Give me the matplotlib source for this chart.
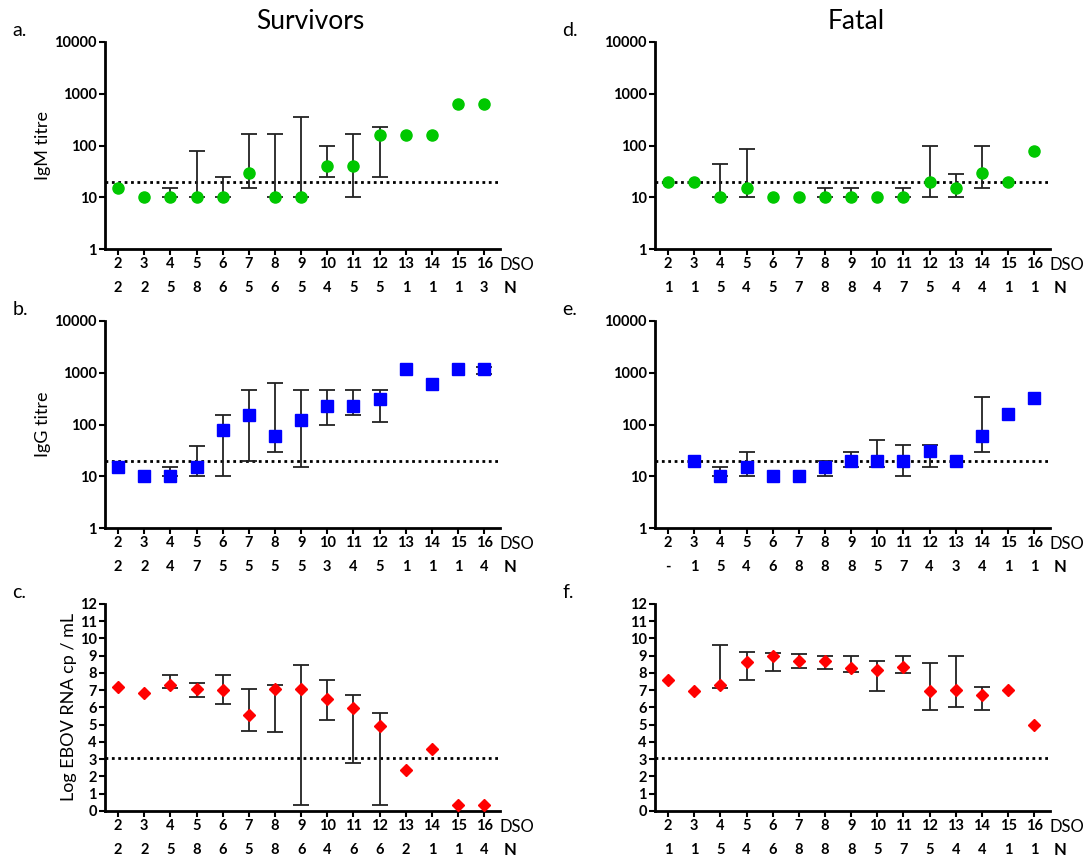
import matplotlib
matplotlib.use("Agg")
import matplotlib.pyplot as plt
import numpy as np

nan = np.nan

plt.rcParams['font.family'] = ['Lato', 'DejaVu Sans']

# %% data

dso = list(range(2, 17))

# IgM titre
igm_surv = [15, 10, 10, 10, 10, 30, 10, 10, 40, 40, 160, 160, 160, 640, 640]
igm_surv_lo = [nan, nan, 10, 10, 10, 15, 10, 10, 25, 10, 25, nan, nan, nan, nan]
igm_surv_hi = [nan, nan, 15, 80, 25, 170, 165, 350, 100, 170, 230, nan, nan, nan, nan]
igm_surv_n = ['2', '2', '5', '8', '6', '5', '6', '5', '4', '5', '5', '1', '1', '1', '3']

igm_fatal = [20, 20, 10, 15, 10, 10, 10, 10, 10, 10, 20, 15, 30, 20, 80]
igm_fatal_lo = [nan, nan, 10, 10, nan, nan, 10, 10, nan, 10, 10, 10, 15, nan, nan]
igm_fatal_hi = [nan, nan, 44, 85, nan, nan, 15, 15, nan, 15, 100, 28, 100, nan, nan]
igm_fatal_n = ['1', '1', '5', '4', '5', '7', '8', '8', '4', '7', '5', '4', '4', '1', '1']

# IgG titre
igg_surv = [15, 10, 10, 15, 80, 155, 60, 120, 230, 230, 310, 1200, 620, 1200, 1200]
igg_surv_lo = [nan, nan, 10, 10, 10, 20, 30, 15, 97, 155, 110, nan, nan, nan, 940]
igg_surv_hi = [nan, nan, 15, 39, 155, 455, 640, 455, 455, 455, 455, nan, nan, nan, 1280]
igg_surv_n = ['2', '2', '4', '7', '5', '5', '5', '5', '3', '4', '5', '1', '1', '1', '4']

igg_fatal = [nan, 20, 10, 15, 10, 10, 15, 20, 20, 20, 31, 20, 60, 160, 320]
igg_fatal_lo = [nan, nan, 10, 10, nan, nan, 10, 15, 15, 10, 15, nan, 30, nan, nan]
igg_fatal_hi = [nan, nan, 15, 30, nan, nan, 20, 30, 50, 41, 41, nan, 340, nan, nan]
igg_fatal_n = ['-', '1', '5', '4', '6', '8', '8', '8', '5', '7', '4', '3', '4', '1', '1']

# log EBOV RNA
rna_surv = [7.17, 6.86, 7.29, 7.05, 7.02, 5.58, 7.07, 7.05, 6.49, 5.95, 4.94, 2.36, 3.57, 0.33, 0.33]
rna_surv_lo = [nan, nan, 7.15, 6.63, 6.18, 4.65, 4.57, 0.33, 5.27, 2.79, 0.33, nan, nan, nan, nan]
rna_surv_hi = [nan, nan, 7.85, 7.42, 7.85, 7.05, 7.30, 8.45, 7.56, 6.74, 5.70, nan, nan, nan, nan]
rna_surv_n = ['2', '2', '5', '8', '6', '5', '8', '6', '4', '6', '6', '2', '1', '1', '4']

rna_fatal = [7.56, 6.94, 7.27, 8.62, 8.99, 8.71, 8.66, 8.29, 8.17, 8.35, 6.94, 6.98, 6.71, 6.98, 4.97]
rna_fatal_lo = [nan, nan, 7.13, 7.61, 8.12, 8.31, 8.25, 8.04, 6.94, 7.98, 5.84, 6.03, 5.84, nan, nan]
rna_fatal_hi = [nan, nan, 9.64, 9.22, 9.14, 9.08, 9.00, 8.95, 8.68, 8.95, 8.60, 8.95, 7.17, nan, nan]
rna_fatal_n = ['1', '1', '5', '4', '6', '8', '8', '8', '5', '7', '5', '4', '4', '1', '1']

titre_cutoff = 20
rna_cutoff = 3.08

# %% figure

fig = plt.figure(figsize=(10.88, 8.56), dpi=100)

lefts = [0.0965, 0.602]
bottoms = [0.709, 0.383, 0.0526]
w, h = 0.363, 0.242

panels = [
    ('a.', 0, 0, igm_surv, igm_surv_lo, igm_surv_hi, igm_surv_n, 'o', '#00c800', 'IgM titre', 'log'),
    ('d.', 1, 0, igm_fatal, igm_fatal_lo, igm_fatal_hi, igm_fatal_n, 'o', '#00c800', None, 'log'),
    ('b.', 0, 1, igg_surv, igg_surv_lo, igg_surv_hi, igg_surv_n, 's', '#0000ff', 'IgG titre', 'log'),
    ('e.', 1, 1, igg_fatal, igg_fatal_lo, igg_fatal_hi, igg_fatal_n, 's', '#0000ff', None, 'log'),
    ('c.', 0, 2, rna_surv, rna_surv_lo, rna_surv_hi, rna_surv_n, 'D', '#ff0000', 'Log EBOV RNA cp / mL', 'lin'),
    ('f.', 1, 2, rna_fatal, rna_fatal_lo, rna_fatal_hi, rna_fatal_n, 'D', '#ff0000', None, 'lin'),
]

x = np.array(dso)

for letter, col, row, mean, lo, hi, n, marker, color, ylabel, scale in panels:
    ax = fig.add_axes([lefts[col], bottoms[row], w, h])
    mean = np.array(mean, dtype=float)
    lo = np.array(lo, dtype=float)
    hi = np.array(hi, dtype=float)

    has_err = ~np.isnan(lo)
    ax.errorbar(x[has_err], mean[has_err],
                yerr=[mean[has_err] - lo[has_err], hi[has_err] - mean[has_err]],
                fmt='none', ecolor='#222222', elinewidth=1.3, capsize=6, capthick=1.3, zorder=2)
    ms = {'o': 8, 's': 8.5, 'D': 6.5}[marker]
    ax.plot(x, mean, linestyle='none', marker=marker, color=color, markersize=ms, zorder=3)

    if scale == 'log':
        ax.set_yscale('log')
        ax.set_ylim(1, 10000)
        ax.set_yticks([1, 10, 100, 1000, 10000])
        ax.set_yticklabels(['1', '10', '100', '1000', '10000'])
        ax.yaxis.set_minor_locator(matplotlib.ticker.NullLocator())
        ax.axhline(titre_cutoff, color='black', lw=2, linestyle=(0, (1, 1.3)), zorder=1)
    else:
        ax.set_ylim(0, 12)
        ax.set_yticks(range(0, 13))
        ax.axhline(rna_cutoff, color='black', lw=2, linestyle=(0, (1, 1.3)), zorder=1)

    ax.set_xlim(1.5, 16.6)
    ax.set_xticks(dso)
    ax.set_xticklabels([str(d) for d in dso])

    for side in ['top', 'right']:
        ax.spines[side].set_visible(False)
    for side in ['left', 'bottom']:
        ax.spines[side].set_linewidth(2)
    ax.tick_params(axis='both', direction='out', width=1.5, length=4, labelsize=10.5, pad=2)
    for lab in ax.get_xticklabels() + ax.get_yticklabels():
        lab.set_fontweight('bold')

    # N row under the DSO ticks
    for xi, ni in zip(dso, n):
        ax.annotate(ni, xy=(xi, 0), xycoords=('data', 'axes fraction'),
                    xytext=(0, -28), textcoords='offset points',
                    ha='center', va='center', fontsize=10.5, fontweight='bold')
    ax.annotate('DSO', xy=(1, 0), xycoords='axes fraction', xytext=(0, -11.5),
                textcoords='offset points', ha='left', va='center', fontsize=12)
    ax.annotate('N', xy=(1, 0), xycoords='axes fraction', xytext=(3, -28),
                textcoords='offset points', ha='left', va='center', fontsize=12, fontweight='bold')

    if ylabel:
        ax.set_ylabel(ylabel, fontsize=13, labelpad=2)

    fig.text(lefts[col] - 0.085, bottoms[row] + h + 0.013, letter, fontsize=14, ha='left', va='center')

fig.text(0.285, 0.975, 'Survivors', fontsize=19, ha='center', va='center')
fig.text(0.787, 0.975, 'Fatal', fontsize=19, ha='center', va='center')

plt.savefig('out.png', dpi=100)
